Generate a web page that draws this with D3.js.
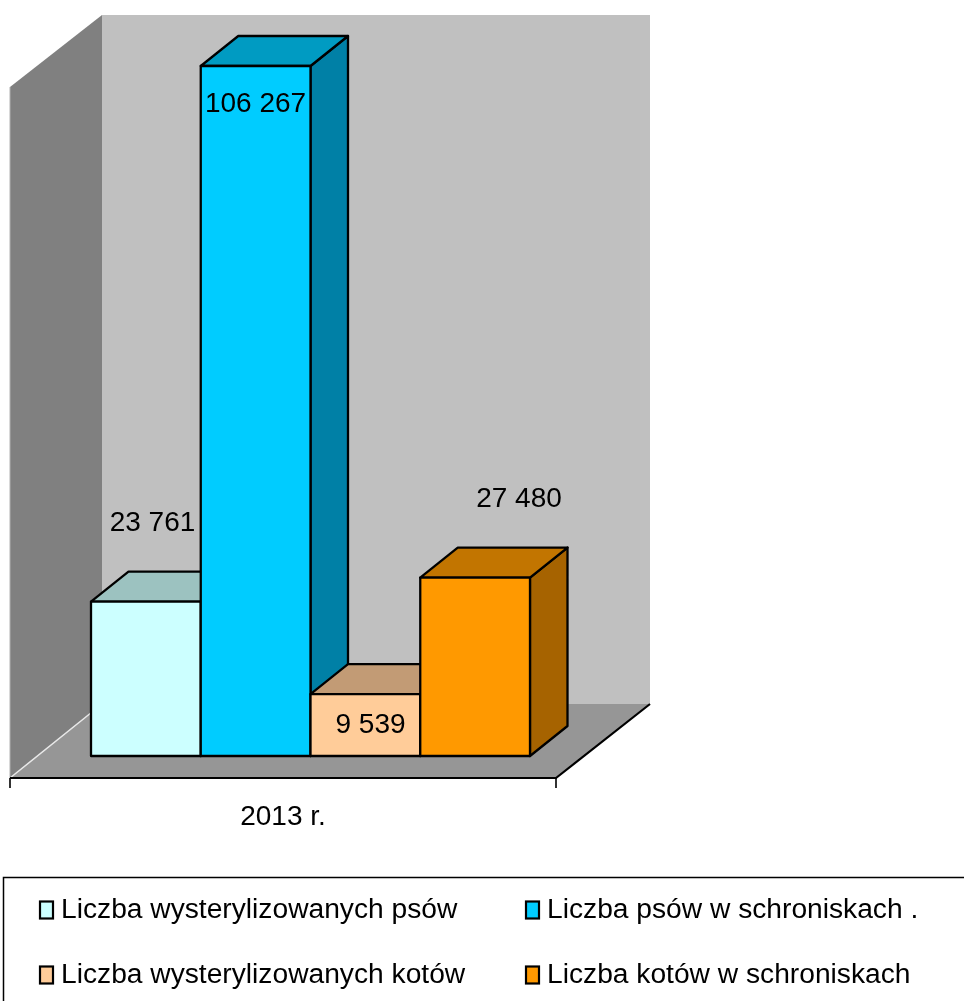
<!DOCTYPE html>
<html><head><meta charset="utf-8">
<script src="https://cdn.jsdelivr.net/npm/d3@7"></script>
<style>html,body{margin:0;padding:0;background:#fff}svg{display:block}text{font-family:"Liberation Sans",Arial,sans-serif;fill:#000}</style>
</head><body><svg id="c" width="964" height="1001"></svg>
<script>
const seriesNames = ["Liczba wysterylizowanych psów","Liczba psów w schroniskach .","Liczba wysterylizowanych kotów","Liczba kotów w schroniskach"];
const seriesValues = [23761,106267,9539,27480];
const valueLabels = ["23 761","106 267","9 539","27 480"];
const frontColors = ["#ccffff","#00ccff","#ffcc99","#ff9900"];
const topColors = ["#9cc2c0","#009bc2","#c29b74","#c27400"];
const sideColors = ["#7f9f9f","#0080a6","#a67f5f","#a66300"];
const category = "2013 r.";

const svg = d3.select("#c");
const defs = svg.append("defs");
defs.append("filter").attr("id","soft").attr("x",0).attr("y",0).attr("width",1).attr("height",1)
  .attr("filterUnits","userSpaceOnUse").attr("width",964).attr("height",1001)
  .append("feGaussianBlur").attr("stdDeviation",0.55);
const root = svg.append("g").attr("filter","url(#soft)");

const y = d3.scaleLinear().domain([0,106267]).range([756,66]);
const x = d3.scaleBand().domain(seriesNames).range([91,530]).padding(0);
const dx = 37.5, dy = -30;
const poly = pts => "M"+pts.map(p=>p.join(",")).join("L")+"Z";

// walls and floor
root.append("path").attr("d",poly([[102,15],[650,15],[650,704],[102,704]])).attr("fill","#c0c0c0");
root.append("path").attr("d",poly([[10,87],[102,15],[102,704],[10,778]])).attr("fill","#808080");
root.append("path").attr("d",poly([[10,778],[102,704],[650,704],[556,778]])).attr("fill","#969696");
root.append("path").attr("d","M10,778L102,704").attr("stroke","#e8e8e8").attr("stroke-width",1.5).attr("fill","none");
root.append("path").attr("d","M10,87V778").attr("stroke","#b0b0b0").attr("stroke-width",1).attr("fill","none");
root.append("path").attr("d","M10,778H556L650,704").attr("stroke","#000").attr("stroke-width",2.2).attr("fill","none");
root.append("path").attr("d","M10,778V788M556,778V788").attr("stroke","#000").attr("stroke-width",1.6).attr("fill","none");

// bars
const bars = root.selectAll("g.bar").data(seriesNames).join("g").attr("class","bar")
  .attr("stroke","#000").attr("stroke-width",2.3).attr("stroke-linejoin","round");
bars.each(function(name,i){
  const g = d3.select(this);
  const x0 = x(name), x1 = x0 + x.bandwidth(), t = y(seriesValues[i]), b = y(0);
  g.append("path").attr("d",poly([[x1,t],[x1+dx,t+dy],[x1+dx,b+dy],[x1,b]])).attr("fill",sideColors[i]);
  g.append("path").attr("d",poly([[x0,t],[x0+dx,t+dy],[x1+dx,t+dy],[x1,t]])).attr("fill",topColors[i]);
  g.append("path").attr("d",poly([[x0,t],[x1,t],[x1,b],[x0,b]])).attr("fill",frontColors[i]);
});

// value labels
const labelOffsets = [[152.5,531],[255.5,111.5],[370.5,732.5],[519,507]];
root.selectAll("text.val").data(valueLabels).join("text").attr("class","val")
  .attr("x",(d,i)=>labelOffsets[i][0]).attr("y",(d,i)=>labelOffsets[i][1])
  .attr("text-anchor","middle").attr("font-size",28).text(d=>d);
root.append("text").attr("x",283).attr("y",824.5).attr("text-anchor","middle").attr("font-size",28).text(category);

// legend
root.append("rect").attr("x",3.5).attr("y",877.5).attr("width",975).attr("height",140).attr("fill","#fff").attr("stroke","#000").attr("stroke-width",1.5);
const legendPos = [[40,909],[526,909],[40,974],[526,974]];
const lg = root.selectAll("g.leg").data(seriesNames).join("g").attr("class","leg")
  .attr("transform",(d,i)=>`translate(${legendPos[i][0]},${legendPos[i][1]})`);
lg.append("rect").attr("x",0).attr("y",-7.5).attr("width",13).attr("height",17).attr("fill",(d,i)=>frontColors[i]).attr("stroke","#000").attr("stroke-width",2.2);
lg.append("text").attr("x",21).attr("y",9).attr("font-size",28.2).text(d=>d);
</script></body></html>
